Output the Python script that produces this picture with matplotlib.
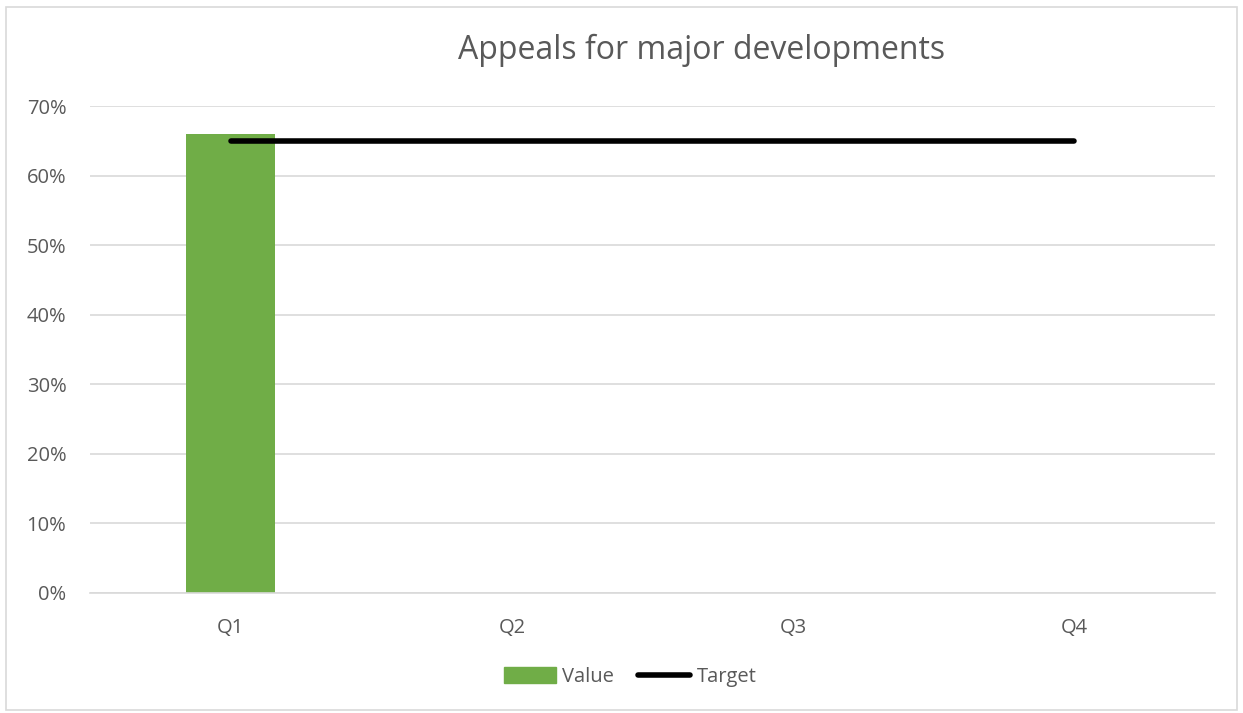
import matplotlib
matplotlib.use("Agg")
import matplotlib.pyplot as plt
from matplotlib.patches import Rectangle
from matplotlib.lines import Line2D
from matplotlib.ticker import FuncFormatter

categories = ["Q1", "Q2", "Q3", "Q4"]
values = [0.66, None, None, None]
target = [0.65, 0.65, 0.65, 0.65]
yticks = [0, 0.1, 0.2, 0.3, 0.4, 0.5, 0.6, 0.7]

plt.rcParams['font.family'] = ['Open Sans', 'DejaVu Sans']
grey = '#595959'

fig = plt.figure(figsize=(12.43, 7.13), dpi=100)
fig.patches.append(Rectangle((0.005, 0.004), 0.99, 0.986, transform=fig.transFigure,
                             fill=False, edgecolor='#d9d9d9', linewidth=1.2))
ax = fig.add_axes([90/1243, 1-593/713, 1125/1243, 487/713])

x = list(range(len(categories)))
bx = [i for i, v in enumerate(values) if v is not None]
bv = [v for v in values if v is not None]
ax.bar(bx, bv, width=0.315, color='#70ad47', zorder=2, label='Value')
ax.plot(x, target, color='black', linewidth=4, solid_capstyle='round', zorder=3, label='Target')

ax.set_xlim(-0.5, 3.5)
ax.set_ylim(0, 0.7)
ax.set_yticks(yticks)
ax.yaxis.set_major_formatter(FuncFormatter(lambda v, p: f"{v*100:.0f}%"))
ax.set_xticks(x)
ax.set_xticklabels(categories)
ax.grid(axis='y', color='#d9d9d9', linewidth=1.2, zorder=0)
ax.set_axisbelow(True)
for s in ['top', 'right', 'left']:
    ax.spines[s].set_visible(False)
ax.spines['bottom'].set_color('#d9d9d9')
ax.spines['bottom'].set_linewidth(1.2)
ax.tick_params(axis='both', length=0, colors=grey, labelsize=14.5)
ax.tick_params(axis='y', pad=17)
ax.tick_params(axis='x', pad=18)

fig.text(702/1243, 1-50/713, "Appeals for major developments", ha='center', va='center',
         fontsize=23, color=grey)

handles = [Rectangle((0, 0), 1, 1, color='#70ad47'),
           Line2D([0], [0], color='black', linewidth=4, solid_capstyle='round')]
fig.legend(handles, ['Value', 'Target'], loc='center', bbox_to_anchor=(630/1243, 1-677/713),
           ncol=2, frameon=False, fontsize=14.5, labelcolor=grey, handlelength=2.6,
           handletextpad=0.3, columnspacing=1.2, handleheight=0.8)

fig.savefig("out.png", dpi=100)
